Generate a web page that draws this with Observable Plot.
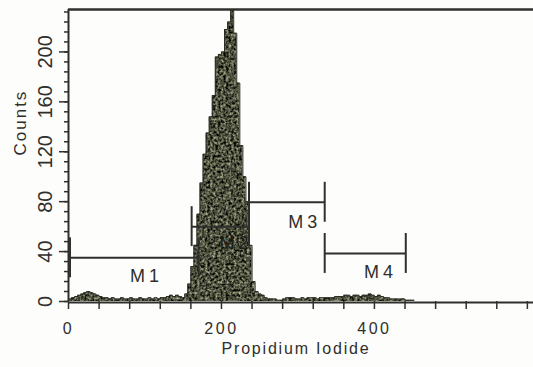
<!DOCTYPE html>
<html><head><meta charset="utf-8">
<script src="https://cdn.jsdelivr.net/npm/d3@7"></script>
<script src="https://cdn.jsdelivr.net/npm/@observablehq/plot@0.6"></script>
<style>
html,body{margin:0;padding:0;background:#fdfdfb;}
#chart svg{display:block;}
</style></head><body><div id="chart"></div>
<script>
// Histogram: counts per 4-unit channel bin (Propidium Iodide)
const binWidth = 4;
const counts = [
  2,3,4,5,6,7,8,7,6,5, 4,3,3,2,3,2,2,3,2,2, 3,2,2,3,2,2,3,2,3,2, 3,3,4,5,4,5,4,
  3,6,14,28,45,70,95,118,135,148,165,196,198,200,218,224,234,215,175,125,100,80,45,16,8,6,5,3,2,
  2,2,1,1,2,3,3,3,2,2, 3,2,3,3,3,2,3,3,3,3, 3,4,4,4,5,5,4,5,5,4, 5,5,6,5,4,5,4,3,3,2, 2,2,2,2,1,1,1
];
const channels = counts.map((_, i) => i * binWidth);

// Region markers
const markerNames  = ["M1", "M2", "M3", "M4"];
const markerStart  = [2, 161, 236, 335];
const markerEnd    = [170, 236, 335, 441];
const markerLevel  = [35, 60, 79.5, 38.5];
const markerLabelX = [102, 219, 309, 408];
const markerLabelY = [20, 47, 63.5, 23.5];

// Axes
const yMajorTicks = [0, 40, 80, 120, 160, 200];
const yMinorTicks = [0,8,16,24,32,40,48,56,64,72,80,88,96,104,112,120,128,136,144,152,160,168,176,184,192,200,208,216,224,232];
const xTickLabels = [0, 200, 400];
const xMinorTicks = [0,40,80,120,160,200,240,280,320,360,400,440,480,520,560,600];
const xTitle = "Propidium Iodide";
const yTitle = "Counts";

const steps = channels.map((c, i) => ({x: c, y: counts[i]}));
steps.push({x: channels[channels.length - 1] + binWidth, y: counts[counts.length - 1]});
const markers = markerNames.map((name, i) => ({
  name, x1: markerStart[i], x2: markerEnd[i], level: markerLevel[i],
  lx: markerLabelX[i], ly: markerLabelY[i]
}));

const ink = "#2f2f2c";
const histFill = "#4b4d3f";

const chart = Plot.plot({
  width: 533, height: 367,
  marginLeft: 68, marginRight: 0, marginTop: 9, marginBottom: 66,
  x: {domain: [0, 608]},
  y: {domain: [0, 234]},
  style: {background: "transparent", fontFamily: "'Liberation Sans', Arial, sans-serif", color: ink},
  marks: [
    Plot.areaY(steps, {x: "x", y: "y", curve: "step-after", fill: histFill}),
    Plot.lineY(steps, {x: "x", y: "y", curve: "step-after", stroke: "#2c2d27", strokeWidth: 1}),
    Plot.ruleY([234], {stroke: ink, strokeWidth: 2.5}),
    Plot.ruleX([0], {stroke: ink, strokeWidth: 2}),
    Plot.ruleY([0], {stroke: ink, strokeWidth: 2, dy: 1}),
    Plot.axisY({ticks: yMinorTicks, tickSize: 4, tickFormat: () => "", stroke: ink, strokeWidth: 1.5}),
    Plot.axisY({ticks: yMajorTicks, tickSize: 9, tickFormat: () => "", stroke: ink, strokeWidth: 1.5}),
    Plot.axisX({ticks: xMinorTicks, tickSize: 8, tickFormat: () => "", stroke: ink, strokeWidth: 1.5}),
    Plot.text(yMajorTicks, {x: 0, y: d => d, text: d => `${d}`, rotate: -90, dx: -23, fontSize: 20, fill: ink}),
    Plot.text(xTickLabels, {x: d => d, y: 0, text: d => `${d}`, dy: 27, fontSize: 16, fill: ink}),
    Plot.text([yTitle], {frameAnchor: "left", dx: -48, rotate: -90, fontSize: 17, fill: ink}),
    Plot.text([xTitle], {frameAnchor: "bottom", dx: -5, dy: 52, fontSize: 16, fill: ink}),
    Plot.ruleY(markers, {y: "level", x1: "x1", x2: "x2", stroke: ink, strokeWidth: 2}),
    Plot.ruleX(markers, {x: "x1", y1: d => d.level - 16, y2: d => d.level + 16, stroke: ink, strokeWidth: 2}),
    Plot.ruleX(markers, {x: "x2", y1: d => d.level - 16, y2: d => d.level + 16, stroke: ink, strokeWidth: 2}),
    Plot.text(markers, {x: "lx", y: "ly", text: "name", fontSize: 18, fill: d => d.name === "M2" ? "#1c1d1a" : ink})
  ]
});

// speckled texture like the scanned print
const svg = d3.select(chart);
const defs = svg.insert("defs", ":first-child");
const f = defs.append("filter").attr("id", "speckle").attr("x", "0").attr("y", "0").attr("width", "1").attr("height", "1")
  .attr("color-interpolation-filters", "sRGB");
f.append("feTurbulence").attr("type", "fractalNoise").attr("baseFrequency", "0.38").attr("numOctaves", "2").attr("seed", "4").attr("result", "noise");
f.append("feColorMatrix").attr("in", "noise").attr("type", "matrix")
  .attr("values", "1.2 0 0 0 -0.30  1.2 0 0 0 -0.29  1.0 0 0 0 -0.26  0 0 0 0 1").attr("result", "col");
f.append("feComposite").attr("in", "col").attr("in2", "SourceGraphic").attr("operator", "in");
svg.selectAll("g[aria-label='area'] path").attr("filter", "url(#speckle)");

const spacing = {"Propidium Iodide": 1.8, "Counts": 2, "0": 2.5, "200": 2.5, "400": 2.5, "M1": 4, "M2": 4, "M3": 4, "M4": 4};
svg.selectAll("text").each(function() {
  const t = this.textContent;
  if (spacing[t] !== undefined) d3.select(this).attr("letter-spacing", spacing[t]);
});
// rotated y labels keep normal spacing
svg.selectAll("text").filter(function() { return (this.getAttribute("transform") || "").includes("rotate") && /^\d+$/.test(this.textContent); }).attr("letter-spacing", null);
document.getElementById("chart").appendChild(chart);
</script>
</body></html>
